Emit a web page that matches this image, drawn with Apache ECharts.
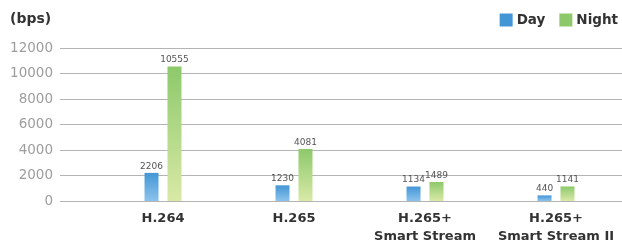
<!DOCTYPE html>
<html><head><meta charset="utf-8">
<script src="https://cdn.jsdelivr.net/npm/echarts@6/dist/echarts.min.js"></script>
<style>html,body{margin:0;padding:0;background:#fff}#c{width:622px;height:246px}</style>
</head><body><div id="c"></div>
<script>
const categories = ['H.264', 'H.265', 'H.265+\nSmart Stream', 'H.265+\nSmart Stream II'];
const dayValues = [2206, 1230, 1134, 440];
const nightValues = [10555, 4081, 1489, 1141];
const yMin = 0, yMax = 12000, yInterval = 2000;

const chart = echarts.init(document.getElementById('c'));
const fontFam = '"DejaVu Sans", sans-serif';
function grad(top, bottom) {
  return new echarts.graphic.LinearGradient(0, 0, 0, 1, [{offset: 0, color: top}, {offset: 1, color: bottom}]);
}
chart.setOption({
  animation: false,
  backgroundColor: '#fff',
  title: {text: '(bps)', left: 10, top: 12, padding: 0, textStyle: {fontSize: 14, fontWeight: 'bold', color: '#333', fontFamily: fontFam}},
  legend: {
    right: 4, top: 13, padding: 0, itemWidth: 13, itemHeight: 13, itemGap: 14,
    icon: 'rect',
    textStyle: {fontSize: 13.5, fontWeight: 'bold', color: '#333', fontFamily: fontFam, padding: [0,0,0,-1]},
    data: [{name: 'Day', itemStyle: {color: '#4396d6'}}, {name: 'Night', itemStyle: {color: '#8dc96b'}}]
  },
  grid: [
    {left: 60, right: 0, top: 48, bottom: 45},
    {left: 97.5, right: 0.5, top: 48, bottom: 45}
  ],
  xAxis: [
    {type: 'category', gridIndex: 0, data: [''], show: false},
    {type: 'category', gridIndex: 1, data: categories,
     axisLine: {show: false}, axisTick: {show: false},
     axisLabel: {interval: 0, margin: 9, fontSize: 13, fontWeight: 'bold', color: '#333', fontFamily: fontFam, lineHeight: 18}}
  ],
  yAxis: [
    {type: 'value', gridIndex: 0, min: yMin, max: yMax, interval: yInterval,
     axisLine: {show: false}, axisTick: {show: false},
     axisLabel: {margin: 7, fontSize: 13.5, color: '#9d9d9d', fontFamily: fontFam, formatter: v => String(v)},
     splitLine: {lineStyle: {color: '#b4b4b4', width: 1}}},
    {type: 'value', gridIndex: 1, min: yMin, max: yMax, interval: yInterval, show: false, splitLine: {show: false}}
  ],
  series: [
    {name: 'Day', type: 'bar', xAxisIndex: 1, yAxisIndex: 1, data: dayValues, barWidth: 14, barGap: '64%',
     itemStyle: {color: grad('#4396d6', '#8cc3ec')},
     label: {show: true, position: 'top', distance: 2, fontSize: 9, color: '#555', fontFamily: fontFam}},
    {name: 'Night', type: 'bar', xAxisIndex: 1, yAxisIndex: 1, data: nightValues, barWidth: 14, barGap: '64%',
     itemStyle: {color: grad('#8dc96b', '#d9e9a6')},
     label: {show: true, position: 'top', distance: 2, fontSize: 9, color: '#555', fontFamily: fontFam}}
  ]
});
</script></body></html>
